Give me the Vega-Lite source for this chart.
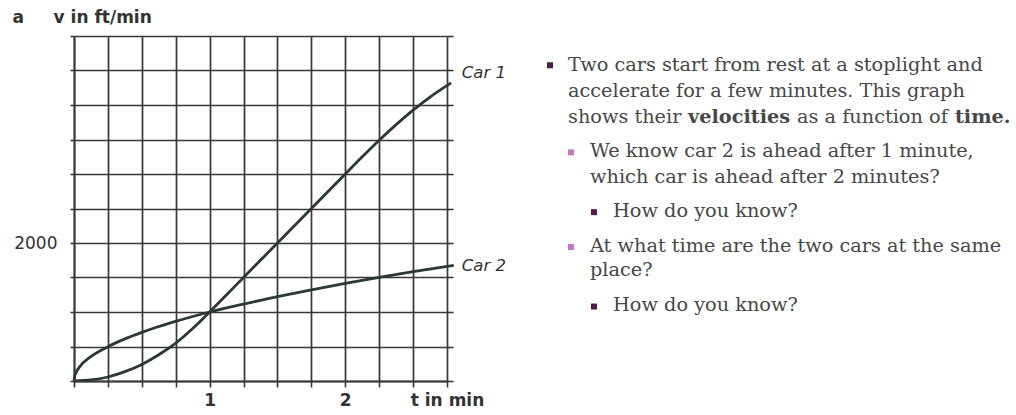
{
  "$schema": "https://vega.github.io/schema/vega-lite/v6.json",
  "background": "white",
  "padding": {"left": 12, "top": 8, "right": 2, "bottom": 5},
  "config": {"view": {"stroke": null}, "concat": {"spacing": 20}},
  "datasets": {
    "curves": [
      {"car": "Car 1", "t": 0, "v": 0},
      {"car": "Car 1", "t": 0.125, "v": 15},
      {"car": "Car 1", "t": 0.25, "v": 58},
      {"car": "Car 1", "t": 0.375, "v": 135},
      {"car": "Car 1", "t": 0.5, "v": 240},
      {"car": "Car 1", "t": 0.625, "v": 380},
      {"car": "Car 1", "t": 0.75, "v": 548},
      {"car": "Car 1", "t": 0.875, "v": 760},
      {"car": "Car 1", "t": 1.0, "v": 1000},
      {"car": "Car 1", "t": 1.125, "v": 1250},
      {"car": "Car 1", "t": 1.25, "v": 1500},
      {"car": "Car 1", "t": 1.5, "v": 2000},
      {"car": "Car 1", "t": 1.75, "v": 2500},
      {"car": "Car 1", "t": 2.0, "v": 3000},
      {"car": "Car 1", "t": 2.125, "v": 3250},
      {"car": "Car 1", "t": 2.25, "v": 3490},
      {"car": "Car 1", "t": 2.375, "v": 3715},
      {"car": "Car 1", "t": 2.5, "v": 3925},
      {"car": "Car 1", "t": 2.625, "v": 4115},
      {"car": "Car 1", "t": 2.78, "v": 4320},
      {"car": "Car 2", "t": 0, "v": 0},
      {"car": "Car 2", "t": 0.005, "v": 70},
      {"car": "Car 2", "t": 0.015, "v": 122},
      {"car": "Car 2", "t": 0.044, "v": 212},
      {"car": "Car 2", "t": 0.118, "v": 345},
      {"car": "Car 2", "t": 0.25, "v": 497},
      {"car": "Car 2", "t": 0.375, "v": 610},
      {"car": "Car 2", "t": 0.5, "v": 705},
      {"car": "Car 2", "t": 0.625, "v": 790},
      {"car": "Car 2", "t": 0.75, "v": 865},
      {"car": "Car 2", "t": 0.875, "v": 935},
      {"car": "Car 2", "t": 1.0, "v": 1000},
      {"car": "Car 2", "t": 1.25, "v": 1115},
      {"car": "Car 2", "t": 1.5, "v": 1222},
      {"car": "Car 2", "t": 1.75, "v": 1322},
      {"car": "Car 2", "t": 2.0, "v": 1415},
      {"car": "Car 2", "t": 2.25, "v": 1502},
      {"car": "Car 2", "t": 2.5, "v": 1585},
      {"car": "Car 2", "t": 2.8, "v": 1675}
    ],
    "labels": [
      {"car": "Car 1", "t": 2.8, "v": 4470},
      {"car": "Car 2", "t": 2.8, "v": 1667}
    ],
    "text": [
      {"row": 0, "x": 1.125, "weight": "normal", "text": "Two cars start from rest at a stoplight and"},
      {"row": 1, "x": 1.125, "weight": "normal", "text": "accelerate for a few minutes.   This graph"},
      {"row": 2, "x": 1.125, "weight": "normal", "text": "shows their"},
      {"row": 2, "x": 8.625, "weight": "bold", "text": "velocities"},
      {"row": 2, "x": 15.44, "weight": "normal", "text": "as a function of"},
      {"row": 2, "x": 25.31, "weight": "bold", "text": "time."},
      {"row": 3.3, "x": 2.5, "weight": "normal", "text": "We know car 2 is ahead after 1 minute,"},
      {"row": 4.3, "x": 2.5, "weight": "normal", "text": "which car is ahead after 2 minutes?"},
      {"row": 5.6, "x": 3.94, "weight": "normal", "text": "How do you know?"},
      {"row": 6.95, "x": 2.5, "weight": "normal", "text": "At what time are the two cars at the same"},
      {"row": 7.9, "x": 2.5, "weight": "normal", "text": "place?"},
      {"row": 9.25, "x": 3.94, "weight": "normal", "text": "How do you know?"}
    ],
    "bullets": [
      {"row": -0.22, "x": 0, "col": "#4b1d4b"},
      {"row": 3.13, "x": 1.31, "col": "#c478c4"},
      {"row": 5.43, "x": 2.75, "col": "#4b1d4b"},
      {"row": 6.77, "x": 1.31, "col": "#c478c4"},
      {"row": 9.06, "x": 2.75, "col": "#4b1d4b"}
    ]
  },
  "hconcat": [
    {
      "width": 373,
      "height": 345,
      "layer": [
        {
          "data": {"name": "curves"},
          "mark": {"type": "line", "interpolate": "monotone", "color": "#2c3833", "strokeWidth": 2.8, "clip": false},
          "encoding": {
            "x": {
              "field": "t", "type": "quantitative",
              "scale": {"domain": [0, 2.75], "nice": false, "zero": true},
              "axis": {
                "values": [0, 0.25, 0.5, 0.75, 1, 1.25, 1.5, 1.75, 2, 2.25, 2.5, 2.75],
                "grid": true, "gridColor": "#383838", "gridWidth": 1.7, "gridOpacity": 1,
                "domain": true, "domainColor": "#383838", "domainWidth": 1.8,
                "ticks": true, "tickSize": 6, "tickColor": "#383838", "tickWidth": 1.6,
                "labelExpr": "datum.value == 1 ? '1' : datum.value == 2 ? '2' : datum.value == 2.75 ? 't in min' : ''",
                "labelFont": "DejaVu Sans", "labelFontSize": 17, "labelFontWeight": "bold", "labelColor": "#333333",
                "labelPadding": 5, "labelOverlap": false, "labelFlush": false, "labelBound": false,
                "title": null
              }
            },
            "y": {
              "field": "v", "type": "quantitative",
              "scale": {"domain": [0, 5000], "nice": false, "zero": true},
              "axis": {
                "values": [0, 500, 1000, 1500, 2000, 2500, 3000, 3500, 4000, 4500, 5000],
                "grid": true, "gridColor": "#383838", "gridWidth": 1.7, "gridOpacity": 1,
                "domain": true, "domainColor": "#383838", "domainWidth": 1.8,
                "ticks": true, "tickSize": 4, "tickColor": "#383838", "tickWidth": 1.6,
                "labelExpr": "datum.value == 2000 ? '2000' : ''",
                "labelFont": "DejaVu Sans", "labelFontSize": 17, "labelColor": "#333333",
                "labelPadding": 13, "labelOverlap": false, "labelBound": false, "labelFlush": false,
                "title": "a\u00a0\u00a0\u00a0\u00a0\u00a0v in ft/min",
                "titleAngle": 0, "titleAlign": "left", "titleBaseline": "middle",
                "titleX": -62, "titleY": -19,
                "titleFont": "DejaVu Sans", "titleFontSize": 17, "titleFontWeight": "bold", "titleColor": "#333333"
              }
            },
            "detail": {"field": "car", "type": "nominal"}
          }
        },
        {
          "data": {"name": "labels"},
          "mark": {"type": "text", "align": "left", "baseline": "middle", "dx": 8, "font": "DejaVu Sans", "fontSize": 16.5, "fontStyle": "italic", "color": "#333333"},
          "encoding": {
            "x": {
              "field": "t", "type": "quantitative",
              "scale": {"domain": [0, 2.75], "nice": false, "zero": true},
              "axis": {
                "values": [0, 0.25, 0.5, 0.75, 1, 1.25, 1.5, 1.75, 2, 2.25, 2.5, 2.75],
                "grid": true, "gridColor": "#383838", "gridWidth": 1.7, "gridOpacity": 1,
                "domain": true, "domainColor": "#383838", "domainWidth": 1.8,
                "ticks": true, "tickSize": 6, "tickColor": "#383838", "tickWidth": 1.6,
                "labelExpr": "datum.value == 1 ? '1' : datum.value == 2 ? '2' : datum.value == 2.75 ? 't in min' : ''",
                "labelFont": "DejaVu Sans", "labelFontSize": 17, "labelFontWeight": "bold", "labelColor": "#333333",
                "labelPadding": 5, "labelOverlap": false, "labelFlush": false, "labelBound": false,
                "title": null
              }
            },
            "y": {
              "field": "v", "type": "quantitative",
              "scale": {"domain": [0, 5000], "nice": false, "zero": true},
              "axis": {
                "orient": "right",
                "values": [0, 500, 1000, 1500, 2000, 2500, 3000, 3500, 4000, 4500, 5000],
                "labels": false, "domain": false, "grid": false,
                "ticks": true, "tickSize": 6, "tickColor": "#383838", "tickWidth": 1.6,
                "title": null
              }
            },
            "text": {"field": "car", "type": "nominal"}
          }
        }
      ],
      "resolve": {"axis": {"y": "independent"}}
    },
    {
      "width": 470,
      "height": 345,
      "layer": [
        {
          "data": {"name": "text"},
          "transform": [{"filter": "datum.weight == 'normal'"}],
          "mark": {"type": "text", "align": "left", "baseline": "alphabetic", "font": "DejaVu Serif", "fontSize": 19.3, "color": "#474747"},
          "encoding": {
            "x": {"field": "x", "type": "quantitative", "scale": {"domain": [-1.5, 27.875], "nice": false, "zero": false}, "axis": null},
            "y": {"field": "row", "type": "quantitative", "scale": {"domain": [-1.346, 11.924], "nice": false, "zero": false, "reverse": true}, "axis": null},
            "text": {"field": "text", "type": "nominal"}
          }
        },
        {
          "data": {"name": "text"},
          "transform": [{"filter": "datum.weight == 'bold'"}],
          "mark": {"type": "text", "align": "left", "baseline": "alphabetic", "font": "DejaVu Serif", "fontSize": 19.3, "fontWeight": "bold", "color": "#474747"},
          "encoding": {
            "x": {"field": "x", "type": "quantitative", "scale": {"domain": [-1.5, 27.875], "nice": false, "zero": false}, "axis": null},
            "y": {"field": "row", "type": "quantitative", "scale": {"domain": [-1.346, 11.924], "nice": false, "zero": false, "reverse": true}, "axis": null},
            "text": {"field": "text", "type": "nominal"}
          }
        },
        {
          "data": {"name": "bullets"},
          "mark": {"type": "point", "shape": "square", "filled": true, "size": 36, "opacity": 1},
          "encoding": {
            "x": {"field": "x", "type": "quantitative", "scale": {"domain": [-1.5, 27.875], "nice": false, "zero": false}, "axis": null},
            "y": {"field": "row", "type": "quantitative", "scale": {"domain": [-1.346, 11.924], "nice": false, "zero": false, "reverse": true}, "axis": null},
            "color": {"field": "col", "type": "nominal", "scale": null}
          }
        }
      ]
    }
  ]
}
